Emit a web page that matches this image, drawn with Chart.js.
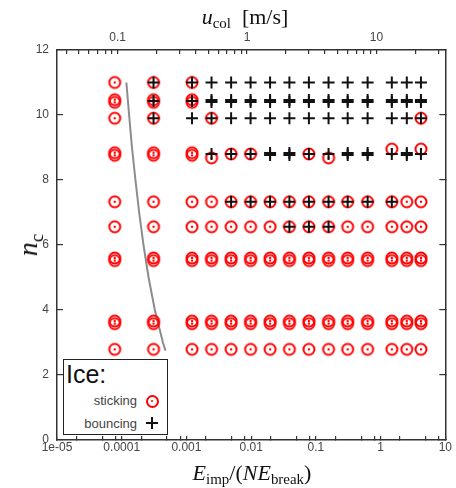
<!DOCTYPE html>
<html>
<head>
<meta charset="utf-8">
<script src="https://cdn.jsdelivr.net/npm/chart.js@4.4.1/dist/chart.umd.min.js"></script>
<style>
  html, body { margin: 0; padding: 0; background: #fff; }
  #wrap { position: relative; width: 456px; height: 488px; overflow: hidden; }
  #grafico { position: absolute; left: 0; top: 0; }
  .titulo { position: absolute; font-family: "Liberation Serif", "DejaVu Serif", serif; color: #111;
            white-space: nowrap; line-height: 22px; font-size: 22px; }
  .titulo sub { font-size: 0.68em; vertical-align: -0.3em; line-height: 0; }
  #tituloTopo { left: 245px; top: 6px; transform: translateX(-50%); }
  #tituloBaixo { left: 252px; top: 462px; transform: translateX(-50%); }
  #tituloY { left: 28px; top: 245px; font-size: 28px; line-height: 28px; transform: translate(-50%, -50%) rotate(-90deg); }
  #legenda { position: absolute; left: 63px; top: 359px; width: 105px; height: 76px; box-sizing: border-box;
             border: 1.5px solid #222; background: #fff; }
  .legTexto { position: absolute; font-family: "Liberation Sans", Arial, sans-serif; color: #444; }
  #legIce { left: 66px; top: 362px; font-size: 25px; line-height: 25px; color: #111; }
  .legItem { font-size: 13px; line-height: 13px; right: calc(456px - 137px); }
  #legStick { top: 394px; }
  #legBounce { top: 417px; }
  .simbCirculo { position: absolute; width: 9px; height: 9px; border: 2px solid #ff0000; border-radius: 50%;
                 left: 145.7px; top: 394.5px; }
  .simbCirculo::after { content: ""; position: absolute; left: 3.3px; top: 3.3px; width: 2.4px; height: 2.4px;
                        border-radius: 50%; background: #ff0000; }
  .simbMais { position: absolute; left: 145.7px; top: 417.3px; width: 12px; height: 12px; }
  .simbMais::before { content: ""; position: absolute; left: 5px; top: 0; width: 2px; height: 12px; background: #111; }
  .simbMais::after { content: ""; position: absolute; left: 0; top: 5px; width: 12px; height: 2px; background: #111; }
</style>
</head>
<body>
<div id="wrap">
  <canvas id="grafico" width="456" height="488"></canvas>
  <div class="titulo" id="tituloTopo"><i>u</i><sub>col</sub>&nbsp; [m/s]</div>
  <div class="titulo" id="tituloBaixo"><i>E</i><sub>imp</sub>/(<i>NE</i><sub>break</sub>)</div>
  <div class="titulo" id="tituloY"><i>n</i><sub>c</sub></div>
  <div id="legenda"></div>
  <div class="legTexto" id="legIce">Ice:</div>
  <div class="legTexto legItem" id="legStick">sticking</div>
  <div class="legTexto legItem" id="legBounce">bouncing</div>
  <div class="simbCirculo"></div>
  <div class="simbMais"></div>
</div>
<script>
// impact energy of each run column (x) and contact number of each row (y)
const colE = [7.8e-5, 3.1e-4, 1.22e-3, 2.44e-3, 4.9e-3, 9.8e-3, 0.0196, 0.039, 0.078, 0.157, 0.31, 0.63, 1.49, 2.54, 4.2];
const rowNc = [11.0, 10.43, 9.9, 8.8, 7.33, 6.56, 5.56, 3.62, 2.79];
// one code per column: s sticking, S two sticking runs, l/u sticking a bit lower/higher,
// b bouncing, B two bouncing runs
const rowOutcome = [
    's sb sb b b b b b b b b b b b b',
    'S Sb Sb B B B B B B B B B B B B',
    's sb b sb b b b b b b b b b b sb',
    'S S S lb sb sb B B sb lb B B ub B ub',
    's s s s sb sb sb sb sb sb sb sb sb s s',
    's s s s s s s sb sb sb s s s s s',
    'S S S S S S S S S S S S S S S',
    'S S S S S S S S S S S S S S S',
    's s s s s s s s s s s s s s s'
];
const ncShift = { s: [0], S: [-0.04, 0.04], l: [-0.12], u: [0.15], b: [0], B: [-0.03, 0.03] };

// gray boundary curve
const lineE = [1.18e-4, 1.3e-4, 1.44e-4, 1.63e-4, 1.86e-4, 2.17e-4, 2.6e-4, 3.25e-4, 4.33e-4, 4.75e-4];
const lineNc = [11.0, 10.0, 9.0, 8.0, 7.0, 6.0, 5.0, 4.0, 3.0, 2.75];

// axis ticks
const bottomMajor = [1e-5, 1e-4, 1e-3, 1e-2, 0.1, 1, 10];
const bottomLabels = ['1e-05', '0.0001', '0.001', '0.01', '0.1', '1', '10'];
const bottomMinorMult = [2, 5, 8];
const topMajor = [0.1, 1, 10];
const topLabels = ['0.1', '1', '10'];
const topMinor = [0.04, 0.05, 0.06, 0.07, 0.08, 0.09, 0.2, 0.3, 0.4, 0.5, 0.6, 0.7, 0.8, 0.9,
                  2, 3, 4, 5, 6, 7, 8, 9, 20, 30];
const yTicks = [0, 2, 4, 6, 8, 10, 12];

const sticking = [], bouncing = [];
rowOutcome.forEach((row, r) => {
    row.split(' ').forEach((code, c) => {
        for (const ch of code) {
            const alvo = (ch === 'b' || ch === 'B') ? bouncing : sticking;
            ncShift[ch].forEach(d => alvo.push({ x: colE[c], y: rowNc[r] + d }));
        }
    });
});
const curva = lineE.map((e, i) => ({ x: e, y: lineNc[i] }));

const bottomTicks = bottomMajor.slice();
bottomMajor.slice(0, -1).forEach(m => bottomMinorMult.forEach(k => bottomTicks.push(m * k)));
bottomTicks.sort((a, b) => a - b);
const topTicks = topMajor.concat(topMinor).sort((a, b) => a - b);

function rotulo(v, majors, labels) {
    const i = majors.findIndex(m => Math.abs(Math.log10(v / m)) < 1e-6);
    return i >= 0 ? labels[i] : '';
}

function circuloPonto() {
    const c = document.createElement('canvas');
    c.width = 16; c.height = 16;
    const g = c.getContext('2d');
    g.strokeStyle = '#ff0000';
    g.lineWidth = 2;
    g.beginPath(); g.arc(8, 8, 5.5, 0, Math.PI * 2); g.stroke();
    g.fillStyle = '#ff0000';
    g.beginPath(); g.arc(8, 8, 1.2, 0, Math.PI * 2); g.fill();
    return c;
}

const fonteTick = { family: '"Liberation Sans", Arial, sans-serif', size: 12 };
const corEixo = '#333';

const eixoGrid = len => ({ drawOnChartArea: false, drawTicks: true, tickLength: len, color: corEixo, lineWidth: 1.2 });
const eixoBorda = { display: true, color: corEixo, width: 1.5 };

new Chart(document.getElementById('grafico').getContext('2d'), {
    type: 'scatter',
    data: {
        datasets: [
            { label: 'bouncing', data: bouncing, order: 0, pointStyle: 'cross', pointRadius: 6,
              borderColor: '#111', borderWidth: 2, backgroundColor: '#111' },
            { label: 'sticking', data: sticking, order: 1, pointStyle: circuloPonto(), pointRadius: 6 },
            { label: 'boundary', data: curva, order: 2, showLine: true, pointRadius: 0,
              borderColor: '#8c8c8c', borderWidth: 2, fill: false }
        ]
    },
    options: {
        responsive: false,
        animation: false,
        layout: { padding: 0 },
        plugins: { legend: { display: false }, tooltip: { enabled: false }, title: { display: false } },
        scales: {
            x: {
                type: 'logarithmic', position: 'bottom', min: 1e-5, max: 10,
                afterBuildTicks: s => { s.ticks = bottomTicks.map(v => ({ value: v })); },
                afterFit: s => { s.height = 48; },
                grid: eixoGrid(-4), border: eixoBorda,
                ticks: { autoSkip: false, maxRotation: 0, padding: 4, font: fonteTick, color: '#444',
                         callback: v => rotulo(v, bottomMajor, bottomLabels) }
            },
            x2: {
                type: 'logarithmic', position: 'top', min: 0.034, max: 34,
                afterBuildTicks: s => { s.ticks = topTicks.map(v => ({ value: v })); },
                afterFit: s => { s.height = 50; },
                grid: eixoGrid(-4), border: eixoBorda,
                ticks: { autoSkip: false, maxRotation: 0, padding: 9, font: fonteTick, color: '#444',
                         callback: v => rotulo(v, topMajor, topLabels) }
            },
            y: {
                type: 'linear', position: 'left', min: 0, max: 12,
                afterBuildTicks: s => { s.ticks = yTicks.map(v => ({ value: v })); },
                afterFit: s => { s.width = 57; },
                grid: eixoGrid(-6), border: eixoBorda,
                ticks: { padding: 14, font: fonteTick, color: '#444' }
            },
            y2: {
                type: 'linear', position: 'right', min: 0, max: 12,
                afterBuildTicks: s => { s.ticks = yTicks.map(v => ({ value: v })); },
                afterFit: s => { s.width = 9; },
                grid: eixoGrid(-6), border: eixoBorda,
                ticks: { display: false }
            }
        }
    }
});
</script>
</body>
</html>
